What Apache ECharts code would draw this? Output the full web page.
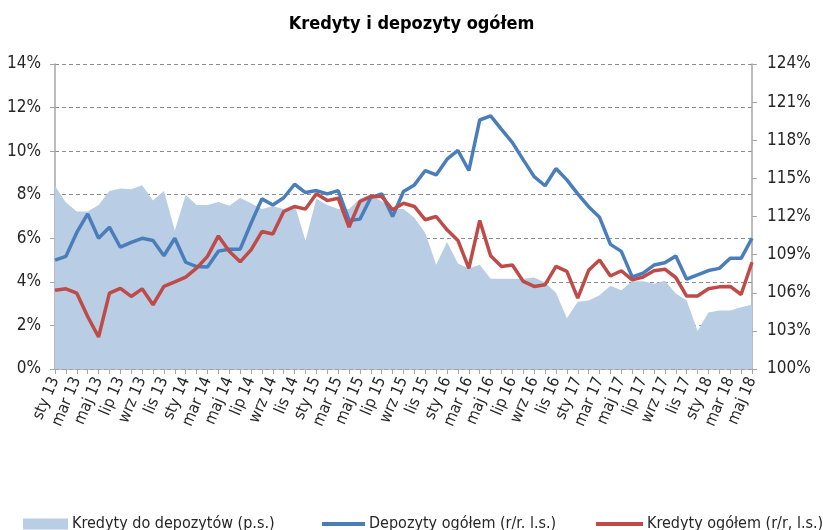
<!DOCTYPE html>
<html>
<head>
<meta charset="utf-8">
<script src="https://cdn.jsdelivr.net/npm/echarts@6/dist/echarts.min.js"></script>
<style>
html,body{margin:0;padding:0;background:#fff;}
#c{width:823px;height:530px;}
</style>
</head>
<body>
<div id="c"></div>
<script>
const monthNames = ['sty','lut','mar','kwi','maj','cze','lip','sie','wrz','paź','lis','gru'];
const years = ['13','14','15','16','17','18'];
const monthCount = 65;
const categories = [];
for (let i = 0; i < monthCount; i++) {
  categories.push(monthNames[i % 12] + ' ' + years[Math.floor(i / 12)]);
}

const leftTicks = [0, 14, 2];      // min, max, interval (%)
const rightTicks = [100, 124, 3];  // min, max, interval (%)

// Kredyty do depozytów (p.s.)
const loanToDeposit = [
  114.4,113.1,112.4,112.4,112.9,114.0,114.2,114.15,114.45,113.25,114.0,110.9,
  113.7,112.9,112.9,113.15,112.85,113.45,113.05,112.6,112.8,112.6,112.95,110.1,
  113.4,112.9,112.6,112.6,113.4,113.7,113.2,112.6,112.6,111.9,110.7,108.2,
  110.0,108.3,107.9,108.2,107.1,107.1,107.1,107.1,107.2,106.8,106.0,104.0,
  105.3,105.4,105.8,106.55,106.2,106.9,106.9,106.7,106.95,105.95,105.4,103.0,
  104.45,104.6,104.6,104.85,105.05
];

// Depozyty ogółem (r/r, l.s.)
const deposits = [
  5.0,5.17,6.27,7.12,6.0,6.51,5.59,5.81,6.0,5.9,5.2,6.0,
  4.9,4.7,4.68,5.41,5.5,5.5,6.69,7.81,7.53,7.86,8.48,8.1,
  8.19,8.04,8.19,6.82,6.88,7.87,8.04,7.0,8.15,8.45,9.11,8.91,
  9.63,10.03,9.11,11.43,11.62,11.0,10.39,9.6,8.83,8.41,9.2,8.68,
  8.04,7.45,6.96,5.72,5.4,4.23,4.4,4.77,4.88,5.19,4.12,4.32,
  4.52,4.62,5.08,5.08,6.0
];

// Kredyty ogółem (r/r, l.s.)
const loans = [
  3.61,3.68,3.48,2.41,1.47,3.48,3.7,3.33,3.68,2.95,3.79,4.0,
  4.22,4.63,5.17,6.11,5.4,4.92,5.47,6.31,6.2,7.23,7.46,7.34,
  8.04,7.73,7.84,6.51,7.69,7.92,7.92,7.31,7.61,7.46,6.85,7.0,
  6.39,5.9,4.62,6.82,5.2,4.71,4.77,4.02,3.79,3.87,4.71,4.48,
  3.25,4.53,5.0,4.27,4.51,4.09,4.22,4.51,4.58,4.2,3.35,3.35,
  3.68,3.77,3.79,3.42,4.9
];

const seriesNames = ['Kredyty do depozytów (p.s.)', 'Depozyty ogółem (r/r. l.s.)', 'Kredyty ogółem (r/r, l.s.)'];

const FONT = '"Liberation Sans Narrow", "DejaVu Sans Condensed", "Liberation Sans", sans-serif';
const AREA = '#B9CDE5', BLUE = '#4A7EBB', RED = '#BE4B48', AXIS = '#A6A6A6', TXT = '#262626';

const legendText = { fontFamily: FONT, fontSize: 16, color: TXT, padding: [0,0,0,-1] };

const chart = echarts.init(document.getElementById('c'));
chart.setOption({
  animation: false,
  backgroundColor: '#fff',
  title: {
    text: 'Kredyty i depozyty ogółem',
    left: 'center', top: 10,
    textStyle: { fontFamily: FONT, fontSize: 18, fontWeight: 'bold', color: '#000' }
  },
  legend: [
    { data: [seriesNames[0]], left: 18, top: 511, icon: 'rect', itemWidth: 45, itemHeight: 11, textStyle: legendText },
    { data: [seriesNames[1]], left: 317, top: 511, icon: 'rect', itemWidth: 43, itemHeight: 4, textStyle: legendText },
    { data: [seriesNames[2]], left: 591, top: 511, icon: 'rect', itemWidth: 47, itemHeight: 4, textStyle: legendText }
  ],
  grid: { left: 55, right: 71, top: 64, bottom: 161, containLabel: false },
  xAxis: {
    type: 'category', data: categories, boundaryGap: false,
    axisLine: { lineStyle: { color: AXIS, width: 1.5 } },
    axisTick: { interval: 0, length: 5, lineStyle: { color: AXIS } },
    axisLabel: { interval: 1, rotate: 67, margin: 9, fontFamily: FONT, fontSize: 16, color: TXT },
    splitLine: { show: false }
  },
  yAxis: [
    { type: 'value', min: leftTicks[0], max: leftTicks[1], interval: leftTicks[2], position: 'left',
      axisLine: { show: true, lineStyle: { color: AXIS, width: 1.5 } },
      axisTick: { show: true, length: 5, lineStyle: { color: AXIS } },
      axisLabel: { formatter: '{value}%', margin: 14, fontFamily: FONT, fontSize: 17, color: TXT },
      splitLine: { show: true, lineStyle: { color: '#8C8C8C', type: [4, 3], width: 1 } } },
    { type: 'value', min: rightTicks[0], max: rightTicks[1], interval: rightTicks[2], position: 'right',
      axisLine: { show: true, lineStyle: { color: AXIS, width: 1.5 } },
      axisTick: { show: true, length: 5, lineStyle: { color: AXIS } },
      axisLabel: { formatter: '{value}%', margin: 15, fontFamily: FONT, fontSize: 17, color: TXT },
      splitLine: { show: false } }
  ],
  series: [
    { name: seriesNames[0], type: 'line', yAxisIndex: 1, data: loanToDeposit, symbol: 'none',
      itemStyle: { color: AREA }, lineStyle: { width: 0, color: AREA },
      areaStyle: { color: AREA, opacity: 1, origin: 'start' }, z: 1 },
    { name: seriesNames[1], type: 'line', yAxisIndex: 0, data: deposits, symbol: 'none',
      itemStyle: { color: BLUE }, lineStyle: { width: 3.5, color: BLUE }, z: 3 },
    { name: seriesNames[2], type: 'line', yAxisIndex: 0, data: loans, symbol: 'none',
      itemStyle: { color: RED }, lineStyle: { width: 3.5, color: RED }, z: 4 }
  ]
});
</script>
</body>
</html>
